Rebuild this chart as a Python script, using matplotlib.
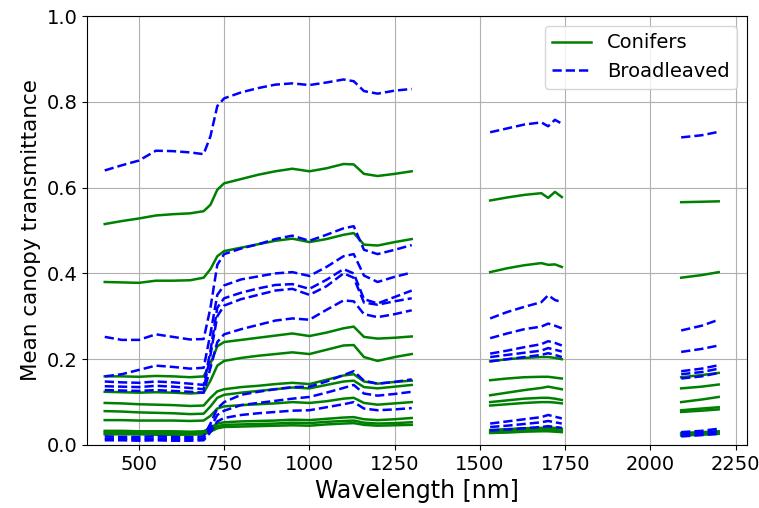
import numpy as np
import matplotlib
matplotlib.use("Agg")
import matplotlib.pyplot as plt

# wavelength grids of the three measured bands [nm]
wl_nir = [400, 450, 500, 550, 600, 650, 690, 710, 730, 750, 800, 850, 900, 950,
          1000, 1050, 1100, 1130, 1160, 1200, 1250, 1300]
wl_swir1 = [1530, 1580, 1630, 1680, 1700, 1720, 1740]
wl_swir2 = [2090, 2150, 2200]

# conifers: mean canopy transmittance
conifers_nir = [
    [0.515, 0.522, 0.528, 0.535, 0.538, 0.540, 0.545, 0.560, 0.595, 0.610, 0.620, 0.630, 0.638, 0.644, 0.638, 0.645, 0.655, 0.654, 0.632, 0.627, 0.632, 0.638],
    [0.380, 0.379, 0.378, 0.383, 0.383, 0.384, 0.390, 0.410, 0.440, 0.452, 0.460, 0.468, 0.476, 0.481, 0.473, 0.480, 0.490, 0.494, 0.467, 0.465, 0.473, 0.480],
    [0.160, 0.160, 0.159, 0.161, 0.160, 0.158, 0.160, 0.190, 0.230, 0.240, 0.245, 0.250, 0.255, 0.260, 0.254, 0.262, 0.272, 0.276, 0.252, 0.248, 0.250, 0.253],
    [0.124, 0.123, 0.122, 0.123, 0.122, 0.120, 0.122, 0.150, 0.185, 0.196, 0.203, 0.208, 0.212, 0.216, 0.212, 0.222, 0.232, 0.233, 0.205, 0.196, 0.205, 0.212],
    [0.098, 0.097, 0.095, 0.094, 0.093, 0.091, 0.092, 0.110, 0.125, 0.130, 0.135, 0.138, 0.142, 0.145, 0.142, 0.152, 0.162, 0.165, 0.148, 0.143, 0.147, 0.150],
    [0.079, 0.078, 0.076, 0.075, 0.074, 0.072, 0.073, 0.090, 0.110, 0.117, 0.122, 0.126, 0.130, 0.134, 0.132, 0.140, 0.148, 0.150, 0.135, 0.132, 0.136, 0.140],
    [0.058, 0.058, 0.057, 0.057, 0.057, 0.056, 0.057, 0.068, 0.085, 0.090, 0.093, 0.095, 0.097, 0.100, 0.098, 0.102, 0.108, 0.110, 0.098, 0.094, 0.097, 0.100],
    [0.033, 0.033, 0.032, 0.032, 0.032, 0.031, 0.032, 0.040, 0.050, 0.053, 0.055, 0.056, 0.057, 0.059, 0.058, 0.061, 0.064, 0.065, 0.060, 0.058, 0.060, 0.063],
    [0.029, 0.029, 0.028, 0.028, 0.028, 0.027, 0.028, 0.035, 0.044, 0.047, 0.048, 0.049, 0.050, 0.052, 0.051, 0.054, 0.056, 0.057, 0.052, 0.050, 0.051, 0.053],
    [0.025, 0.025, 0.025, 0.024, 0.024, 0.024, 0.025, 0.031, 0.039, 0.042, 0.043, 0.044, 0.045, 0.046, 0.045, 0.048, 0.050, 0.051, 0.047, 0.045, 0.046, 0.047],
]
conifers_swir1 = [
    [0.570, 0.577, 0.583, 0.587, 0.576, 0.590, 0.578],
    [0.403, 0.412, 0.419, 0.424, 0.420, 0.421, 0.415],
    [0.195, 0.200, 0.203, 0.205, 0.205, 0.203, 0.200],
    [0.151, 0.155, 0.158, 0.159, 0.159, 0.157, 0.155],
    [0.116, 0.122, 0.128, 0.133, 0.136, 0.133, 0.130],
    [0.100, 0.104, 0.108, 0.110, 0.110, 0.108, 0.105],
    [0.092, 0.095, 0.098, 0.100, 0.100, 0.099, 0.097],
    [0.035, 0.037, 0.039, 0.040, 0.040, 0.040, 0.038],
    [0.031, 0.033, 0.034, 0.035, 0.035, 0.035, 0.033],
    [0.028, 0.029, 0.031, 0.032, 0.032, 0.031, 0.030],
]
conifers_swir2 = [
    [0.566, 0.567, 0.568],
    [0.390, 0.396, 0.403],
    [0.158, 0.163, 0.168],
    [0.132, 0.136, 0.141],
    [0.100, 0.106, 0.112],
    [0.081, 0.085, 0.088],
    [0.077, 0.080, 0.083],
    [0.028, 0.030, 0.032],
    [0.025, 0.027, 0.029],
    [0.022, 0.024, 0.026],
]

# broadleaved: mean canopy transmittance
broadleaved_nir = [
    [0.640, 0.652, 0.663, 0.686, 0.685, 0.682, 0.678, 0.720, 0.790, 0.808, 0.822, 0.832, 0.840, 0.843, 0.839, 0.845, 0.852, 0.848, 0.825, 0.819, 0.826, 0.830],
    [0.252, 0.245, 0.245, 0.258, 0.252, 0.246, 0.247, 0.320, 0.420, 0.445, 0.458, 0.468, 0.480, 0.488, 0.476, 0.490, 0.505, 0.510, 0.455, 0.445, 0.455, 0.466],
    [0.160, 0.165, 0.175, 0.185, 0.182, 0.178, 0.180, 0.260, 0.350, 0.372, 0.386, 0.393, 0.400, 0.403, 0.394, 0.415, 0.440, 0.445, 0.395, 0.380, 0.392, 0.402],
    [0.148, 0.146, 0.145, 0.148, 0.146, 0.143, 0.140, 0.220, 0.320, 0.342, 0.355, 0.365, 0.373, 0.375, 0.364, 0.385, 0.410, 0.400, 0.340, 0.330, 0.345, 0.360],
    [0.137, 0.136, 0.135, 0.138, 0.136, 0.133, 0.130, 0.210, 0.300, 0.325, 0.340, 0.350, 0.360, 0.364, 0.350, 0.370, 0.400, 0.390, 0.332, 0.327, 0.335, 0.342],
    [0.128, 0.127, 0.126, 0.128, 0.126, 0.124, 0.122, 0.180, 0.240, 0.258, 0.270, 0.280, 0.290, 0.295, 0.292, 0.315, 0.337, 0.335, 0.305, 0.298, 0.305, 0.314],
    [0.020, 0.019, 0.019, 0.020, 0.019, 0.018, 0.020, 0.050, 0.085, 0.100, 0.117, 0.124, 0.130, 0.135, 0.136, 0.148, 0.163, 0.172, 0.150, 0.143, 0.147, 0.153],
    [0.015, 0.015, 0.014, 0.015, 0.014, 0.014, 0.015, 0.040, 0.070, 0.080, 0.093, 0.098, 0.103, 0.108, 0.112, 0.122, 0.133, 0.140, 0.120, 0.115, 0.119, 0.124],
    [0.011, 0.011, 0.010, 0.011, 0.010, 0.010, 0.011, 0.030, 0.055, 0.063, 0.070, 0.074, 0.077, 0.080, 0.081, 0.088, 0.095, 0.100, 0.085, 0.081, 0.083, 0.086],
]
broadleaved_swir1 = [
    [0.729, 0.738, 0.747, 0.752, 0.743, 0.758, 0.749],
    [0.295, 0.310, 0.322, 0.333, 0.349, 0.338, 0.333],
    [0.249, 0.260, 0.270, 0.276, 0.283, 0.278, 0.272],
    [0.213, 0.220, 0.228, 0.235, 0.242, 0.238, 0.232],
    [0.205, 0.210, 0.215, 0.220, 0.226, 0.222, 0.218],
    [0.195, 0.200, 0.205, 0.210, 0.214, 0.210, 0.205],
    [0.050, 0.055, 0.060, 0.065, 0.070, 0.066, 0.062],
    [0.042, 0.045, 0.049, 0.053, 0.056, 0.053, 0.050],
    [0.034, 0.036, 0.039, 0.042, 0.044, 0.042, 0.040],
]
broadleaved_swir2 = [
    [0.717, 0.722, 0.730],
    [0.267, 0.278, 0.292],
    [0.217, 0.224, 0.232],
    [0.172, 0.178, 0.186],
    [0.165, 0.170, 0.178],
    [0.155, 0.160, 0.168],
    [0.030, 0.033, 0.038],
    [0.025, 0.028, 0.032],
    [0.020, 0.023, 0.026],
]

# join the three bands, NaN breaks the line over the water absorption gaps
wl = np.concatenate([wl_nir, [np.nan], wl_swir1, [np.nan], wl_swir2])


def full_curve(a, b, c):
    return np.concatenate([a, [np.nan], b, [np.nan], c])


fig = plt.figure(figsize=(7.59, 5.08), dpi=100)
ax = fig.add_axes([87 / 759, 1 - 445 / 508, 660 / 759, 429 / 508])

for i in range(len(conifers_nir)):
    y = full_curve(conifers_nir[i], conifers_swir1[i], conifers_swir2[i])
    ax.plot(wl, y, color='green', linestyle='-', linewidth=1.8,
            label='Conifers' if i == 0 else None)

for i in range(len(broadleaved_nir)):
    y = full_curve(broadleaved_nir[i], broadleaved_swir1[i], broadleaved_swir2[i])
    ax.plot(wl, y, color='blue', linestyle='--', linewidth=1.8,
            label='Broadleaved' if i == 0 else None)

ax.set_xlim(348, 2283)
ax.set_ylim(0, 1)
ax.set_xticks([500, 750, 1000, 1250, 1500, 1750, 2000, 2250])
ax.set_yticks([0.0, 0.2, 0.4, 0.6, 0.8, 1.0])
ax.tick_params(labelsize=14)
ax.grid(True)
ax.set_xlabel('Wavelength [nm]', fontsize=17)
ax.set_ylabel('Mean canopy transmittance', fontsize=15.5)
ax.legend(loc='upper right', fontsize=14)

fig.savefig('out.png', dpi=100)
